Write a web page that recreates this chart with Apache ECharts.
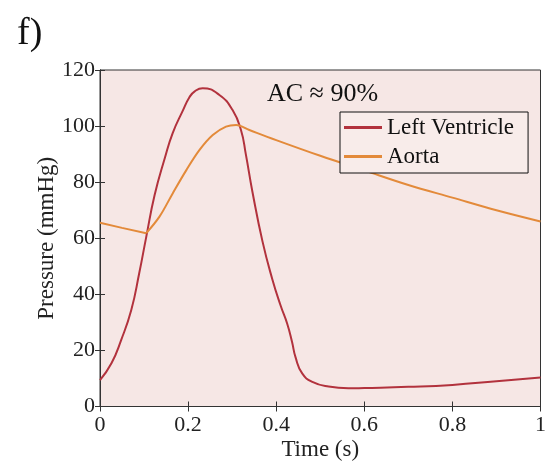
<!DOCTYPE html>
<html>
<head>
<meta charset="utf-8">
<script src="https://cdn.jsdelivr.net/npm/echarts@6/dist/echarts.min.js"></script>
<style>
  html, body { margin: 0; padding: 0; background: #fff; }
  #chart { width: 549px; height: 468px; }
</style>
</head>
<body>
<div id="chart"></div>
<script>
// Left ventricle pressure
const lvTime = [0, 0.026, 0.048, 0.071, 0.089, 0.105, 0.124, 0.147, 0.165, 0.188, 0.203, 0.215, 0.233,
  0.271, 0.301, 0.32, 0.331, 0.346, 0.369, 0.391, 0.41, 0.425, 0.436, 0.444, 0.459, 0.482,
  0.519, 0.564, 0.6, 0.7, 0.8, 0.9, 1.0];
const lvPressure = [9.4, 15.4, 23.7, 34.4, 47.5, 60.5, 75.4, 88.5, 97.5, 105.5, 110.3, 112.4, 113.5,
  111.1, 105.7, 98.6, 90, 76.6, 58.8, 45.5, 36, 29.5, 23, 17.5, 11.8, 8.8,
  7.1, 6.5, 6.6, 7.0, 7.7, 9.0, 10.3];

// Aortic pressure; valve opens at index 2 (t = 0.105)
const aoTime = [0, 0.05, 0.105, 0.135, 0.165, 0.196, 0.226, 0.256, 0.286, 0.309, 0.339,
  0.4, 0.5, 0.6, 0.7, 0.8, 0.9, 1.0];
const aoPressure = [65.5, 63.7, 61.8, 67.7, 76.0, 84.3, 91.5, 96.8, 99.8, 100.4, 98.6,
  95, 89.4, 84.2, 79, 74.5, 70, 66];
const aoOpen = 2;

const xTicks = [0, 0.2, 0.4, 0.6, 0.8, 1];
const yTicks = [0, 20, 40, 60, 80, 100, 120];

const serif = 'Liberation Serif';
const axisColor = '#333';
const lvColor = '#b2323d';
const aoColor = '#e38a3a';

const chart = echarts.init(document.getElementById('chart'));

const baseX = {
  type: 'value', min: xTicks[0], max: xTicks[xTicks.length - 1], interval: 0.2,
  axisLine: { show: true, lineStyle: { color: axisColor, width: 1 } },
  axisTick: { show: true, inside: true, length: 5, lineStyle: { color: axisColor } },
  splitLine: { show: false }
};
const baseY = {
  type: 'value', min: yTicks[0], max: yTicks[yTicks.length - 1], interval: 20,
  axisLine: { show: true, lineStyle: { color: axisColor, width: 1 } },
  axisTick: { show: true, inside: true, length: 5, lineStyle: { color: axisColor } },
  splitLine: { show: false }
};

const aoPairs = aoTime.map((t, i) => [t, aoPressure[i]]);

chart.setOption({
  animation: false,
  backgroundColor: '#fff',
  title: [
    { text: 'f)', left: 12, top: 10, textStyle: { fontFamily: serif, fontSize: 38, fontWeight: 'normal', color: '#111' } },
    { text: 'AC ≈ 90%', left: 262, top: 76, textStyle: { fontFamily: serif, fontSize: 26, fontWeight: 'normal', color: '#111' } }
  ],
  grid: {
    left: 100, right: 6, top: 70, bottom: 61.5,
    show: true, backgroundColor: '#f6e7e5', borderColor: axisColor, borderWidth: 1
  },
  legend: {
    orient: 'vertical', left: 340, top: 112,
    data: ['Left Ventricle', 'Aorta'],
    icon: 'rect',
    itemWidth: 38, itemHeight: 3, itemGap: 6,
    padding: [4, 14, 5, 4],
    borderColor: '#111', borderWidth: 1, borderRadius: 0,
    backgroundColor: '#f8ecea',
    textStyle: { fontFamily: serif, fontSize: 23, color: '#111', padding: [0, 0, 0, 0] }
  },
  xAxis: [
    Object.assign({}, baseX, {
      position: 'bottom',
      name: 'Time (s)', nameLocation: 'middle', nameGap: 32, nameMoveOverlap: false,
      nameTextStyle: { fontFamily: serif, fontSize: 23, color: '#222' },
      axisLabel: { fontFamily: serif, fontSize: 22, color: '#222', margin: 8 }
    }),
    Object.assign({}, baseX, { position: 'top', axisLabel: { show: false } })
  ],
  yAxis: [
    Object.assign({}, baseY, {
      position: 'left',
      name: 'Pressure (mmHg)', nameLocation: 'middle', nameGap: 42, nameMoveOverlap: false,
      nameTextStyle: { fontFamily: serif, fontSize: 23, color: '#222' },
      axisLabel: { fontFamily: serif, fontSize: 22, color: '#222', margin: 5 }
    }),
    Object.assign({}, baseY, { position: 'right', axisLabel: { show: false } })
  ],
  series: [
    {
      name: 'Left Ventricle', type: 'line', symbol: 'none', smooth: 0.5,
      data: lvTime.map((t, i) => [t, lvPressure[i]]),
      lineStyle: { color: lvColor, width: 2 }, itemStyle: { color: lvColor }
    },
    {
      // closed valve: aortic run-off before ejection
      name: 'Aorta', type: 'line', symbol: 'none', smooth: false,
      data: aoPairs.slice(0, aoOpen + 1),
      lineStyle: { color: aoColor, width: 2 }, itemStyle: { color: aoColor }
    },
    {
      name: 'Aorta', type: 'line', symbol: 'none', smooth: 0.35,
      data: aoPairs.slice(aoOpen),
      lineStyle: { color: aoColor, width: 2 }, itemStyle: { color: aoColor }
    }
  ]
});
</script>
</body>
</html>
